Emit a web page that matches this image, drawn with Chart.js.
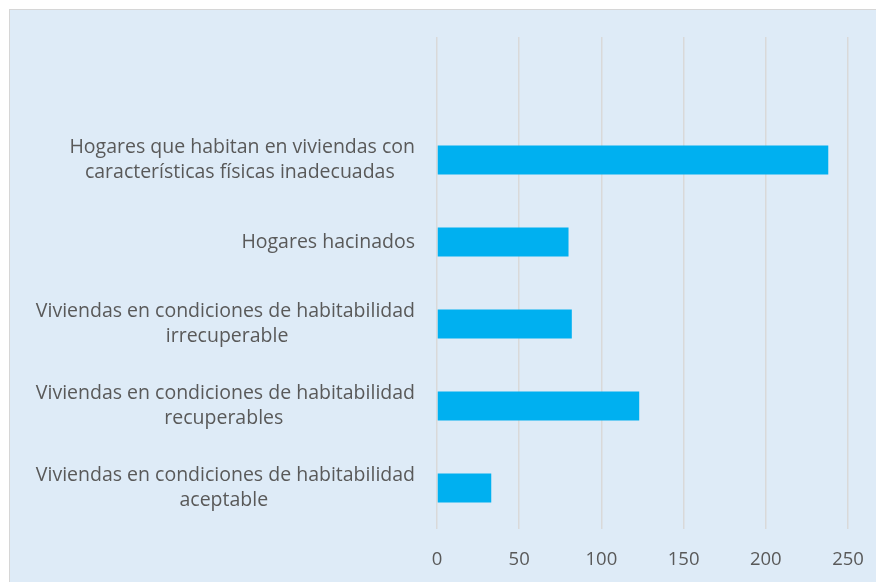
<!DOCTYPE html>
<html>
<head>
<meta charset="utf-8">
<script src="https://cdn.jsdelivr.net/npm/chart.js@4"></script>
<style>
  html, body { margin:0; padding:0; background:#ffffff; width:876px; height:582px; overflow:hidden; }
  #panel { position:absolute; left:9px; top:9px; width:900px; height:600px; background:#DEEBF7; border:1px solid #D6D6D6; }
  #wrap { position:absolute; left:0; top:0; width:876px; height:582px; }
</style>
</head>
<body>
<div id="panel"></div>
<div id="wrap"><canvas id="c" width="876" height="582"></canvas></div>
<script>
const categories = [
  '',
  ['Hogares que habitan en viviendas con', 'características físicas inadecuadas'],
  'Hogares hacinados',
  ['Viviendas en condiciones de habitabilidad', 'irrecuperable'],
  ['Viviendas en condiciones de habitabilidad', 'recuperables'],
  ['Viviendas en condiciones de habitabilidad', 'aceptable']
];
const values = [null, 238, 80, 82, 123, 33];
const xTicks = [0, 50, 100, 150, 200, 250];

const XFONT = { family: 'Open Sans', size: 18.5, lineHeight: 1.35 };
const YFONT = { family: 'Open Sans', size: 19.5, lineHeight: 1.28 };
const TEXT_COLOR = '#595959';

// centre the lines of each multi-line label against each other (right-aligned block)
const mctx = document.createElement('canvas').getContext('2d');
mctx.font = YFONT.size + 'px "' + YFONT.family + '"';
function centredLines(lab) {
  if (!Array.isArray(lab)) return lab;
  const widths = lab.map(s => mctx.measureText(s).width);
  const maxW = Math.max(...widths);
  const sp = mctx.measureText('\u00A0').width;
  return lab.map((s, i) => {
    const n = Math.round((maxW - widths[i]) / 2 / sp);
    return s + '\u00A0'.repeat(n);
  });
}
function noPad(s) { s.paddingTop = 0; s.paddingBottom = 0; s.paddingLeft = 0; s.paddingRight = 0; }

new Chart(document.getElementById('c'), {
  type: 'bar',
  data: {
    labels: categories,
    datasets: [{
      data: values,
      backgroundColor: '#00B0F0',
      borderWidth: 0,
      categoryPercentage: 1,
      barPercentage: 0.354
    }]
  },
  options: {
    indexAxis: 'y',
    responsive: false,
    animation: false,
    layout: { padding: { top: 37, right: 28, left: 0, bottom: 0 } },
    plugins: { legend: { display: false }, tooltip: { enabled: false } },
    scales: {
      x: {
        min: 0, max: 250,
        afterBuildTicks: s => { s.ticks = xTicks.map(v => ({ value: v })); },
        afterFit: s => { s.height = 53; noPad(s); },
        grid: { color: '#D9D9D9', lineWidth: 1.5, drawTicks: false },
        border: { display: false },
        ticks: { color: TEXT_COLOR, font: XFONT, padding: 18 }
      },
      y: {
        afterFit: s => { s.width = 437; noPad(s); },
        grid: { display: false, drawTicks: false },
        border: { display: false },
        ticks: {
          color: TEXT_COLOR, font: YFONT, padding: 22,
          callback: function (v, i) { return centredLines(categories[i]); }
        }
      }
    }
  }
});
</script>
</body>
</html>
